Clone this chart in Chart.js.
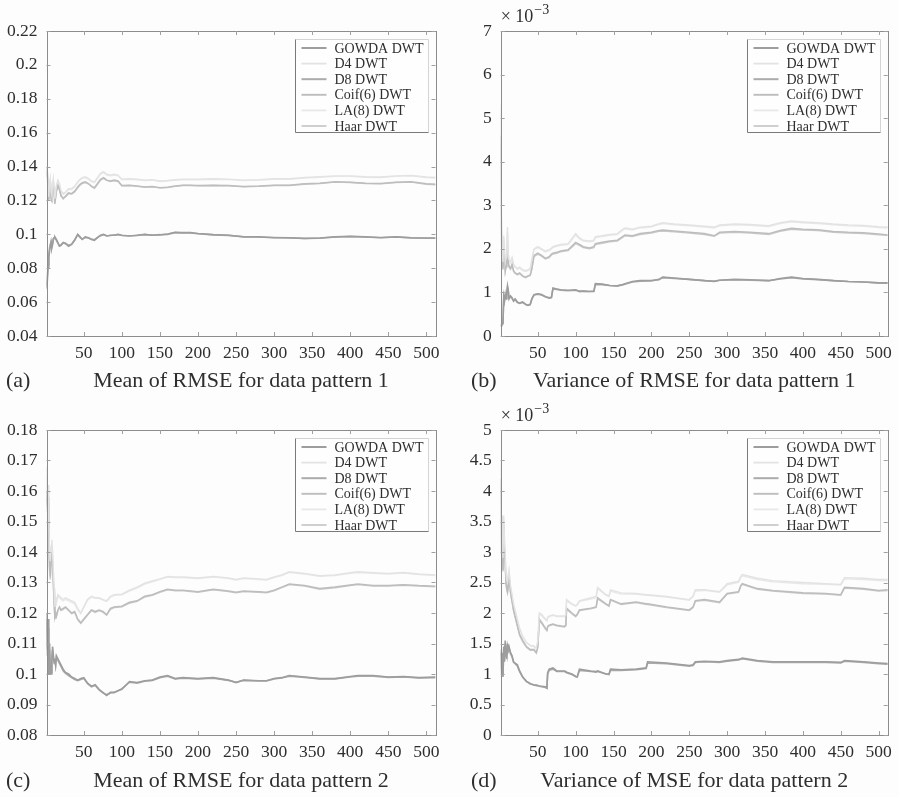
<!DOCTYPE html>
<html>
<head>
<meta charset="utf-8">
<script src="https://cdn.jsdelivr.net/npm/chart.js@4.4.1/dist/chart.umd.min.js"></script>
<style>
  body { margin: 0; background: #fdfdfd; }
  .panel { position: absolute; width: 450px; height: 398px; }
</style>
</head>
<body>
<div class="panel" style="left:0;top:0"><canvas id="pa"></canvas></div>
<div class="panel" style="left:449px;top:0"><canvas id="pb"></canvas></div>
<div class="panel" style="left:0;top:397px"><canvas id="pc"></canvas></div>
<div class="panel" style="left:449px;top:397px"><canvas id="pd"></canvas></div>
<script>
const names = ['GOWDA DWT', 'D4 DWT', 'D8 DWT', 'Coif(6) DWT', 'LA(8) DWT', 'Haar DWT'];
const xTicks = [50, 100, 150, 200, 250, 300, 350, 400, 450, 500];

// (a) mean of RMSE, pattern 1
const xsA = [1,2,3,4,5,6,7,8,9,10,11,12,14,16,18,20,23,26,30,34,38,42,45,48,52,56,60,64,68,72,76,80,85,90,95,100,
  110,120,130,140,150,160,170,180,190,200,220,240,260,280,300,320,340,360,380,400,420,440,460,480,500,512];
const aGowda = [0.068,0.072,0.080,0.086,0.090,0.093,0.095,0.092,0.094,0.097,0.098,0.0985, 0.097,0.095,0.093,0.0935,
  0.095,0.0945,0.093,0.094,0.0965,0.100, 0.0985,0.097,0.0985,0.098,0.097,0.0965,0.098,0.0995,0.100,0.099,
  0.0995,0.0995,0.100,0.0995, 0.099,0.0995,0.100,0.0995,0.0998,0.1002,0.1012,0.101,0.101,0.1005,
  0.0998,0.0995,0.0985,0.0985,0.098,0.098,0.0975,0.0978,0.0985,0.0988,0.0985,0.098,0.0985,0.098,0.0978, 0.0978];
const aD4 = [0.14,0.137,0.128,0.122,0.13,0.133,0.125,0.123,0.13,0.133,0.127,0.121, 0.129,0.132,0.13,0.126,
  0.124,0.125,0.127,0.127,0.1285,0.131, 0.1325,0.1335,0.134,0.133,0.1315,0.131,0.1335,0.136,0.137,0.1355,
  0.135,0.1355,0.135,0.1325, 0.1328,0.1325,0.132,0.1322,0.1315,0.1318,0.1322,0.1325,0.1325,0.1325,
  0.1328,0.1326,0.132,0.1322,0.1328,0.1328,0.1335,0.134,0.1345,0.1345,0.134,0.1338,0.1345,0.1348,0.1338, 0.1335];
const aD8 = [0.07,0.075,0.082,0.088,0.092,0.094,0.096,0.093,0.095,0.0975,0.098,0.098, 0.0965,0.0948,0.0932,0.0938,
  0.0952,0.0948,0.0935,0.0942,0.0968,0.0998, 0.0982,0.0972,0.0982,0.0978,0.0972,0.0968,0.0982,0.0992,0.0998,0.0992,
  0.0993,0.0996,0.0998,0.0993, 0.0992,0.0993,0.0998,0.0996,0.0996,0.1,0.101,0.1008,0.1008,0.1003,
  0.0997,0.0994,0.0986,0.0984,0.0981,0.0979,0.0976,0.0977,0.0984,0.0987,0.0984,0.0981,0.0984,0.0979,0.0977, 0.0977];
const aCoif = [0.136,0.138,0.125,0.12,0.127,0.13,0.121,0.12,0.128,0.13,0.124,0.118, 0.126,0.129,0.127,0.123,
  0.121,0.1225,0.1245,0.124,0.1255,0.128, 0.1295,0.1305,0.131,0.13,0.1285,0.1275,0.130,0.1325,0.1335,0.132,
  0.1315,0.132,0.1315,0.1288, 0.129,0.1285,0.128,0.1282,0.1275,0.1278,0.1285,0.129,0.129,0.1288,
  0.129,0.1288,0.1282,0.1285,0.129,0.129,0.1298,0.1302,0.131,0.1308,0.1302,0.13,0.1308,0.131,0.1298, 0.1295];
const aLA = [0.139,0.136,0.127,0.123,0.131,0.132,0.124,0.124,0.131,0.132,0.126,0.122, 0.128,0.131,0.129,0.125,
  0.1235,0.1245,0.1265,0.1265,0.128,0.1305, 0.132,0.133,0.1335,0.1325,0.131,0.1305,0.133,0.1355,0.1365,0.135,
  0.1345,0.135,0.1345,0.1322, 0.1325,0.1322,0.1318,0.132,0.1312,0.1315,0.132,0.1322,0.1322,0.1322,
  0.1325,0.1323,0.1318,0.132,0.1325,0.1325,0.1332,0.1337,0.1342,0.1342,0.1337,0.1335,0.1342,0.1345,0.1335, 0.1332];
const aHaar = [0.134,0.137,0.126,0.121,0.126,0.129,0.122,0.119,0.127,0.129,0.125,0.119, 0.125,0.128,0.126,0.1225,
  0.1215,0.1222,0.124,0.1238,0.125,0.1275, 0.129,0.13,0.1305,0.1298,0.1282,0.1272,0.1295,0.132,0.133,0.1318,
  0.1312,0.1316,0.1312,0.1286, 0.1288,0.1283,0.1279,0.128,0.1274,0.1276,0.1283,0.1288,0.1288,0.1286,
  0.1288,0.1286,0.128,0.1283,0.1288,0.1288,0.1296,0.13,0.1308,0.1306,0.13,0.1298,0.1306,0.1308,0.1296, 0.1293];
const aTicks = [0.04, 0.06, 0.08, 0.1, 0.12, 0.14, 0.16, 0.18, 0.2, 0.22];

// (b) variance of RMSE, pattern 1 (x 10^-3)
const xsB = [1,2,3,4,5,6,7,8,9,10,11,12,14,16,18,20,23,26,30,34,37,40,42,45,50,55,60,65,68,70,75,80,90,100,
  105,110,118,124,126,135,145,155,162,165,175,185,200,210,215,230,250,270,283,290,310,330,355,370,385,400,420,440,460,480,500,512];
const bGowda = [0.25,0.22,0.28,0.3,0.9,0.8,0.95,0.85,1.0,1.15,1.05,0.85, 0.92,0.88,0.8,0.85,
  0.78,0.75,0.78,0.72,0.7,0.72,0.85,0.95, 0.97,0.95,0.9,0.87,0.88,1.1,1.08,1.06,1.05,1.06,
  1.02,1.03,1.02,1.02,1.2,1.19,1.16,1.15,1.18,1.2, 1.25,1.27,1.27,1.3,1.35,1.33,1.3,1.27,1.25,1.28,
  1.3,1.29,1.27,1.32,1.35,1.32,1.3,1.27,1.25,1.24, 1.22,1.22];
const bD4 = [5.3,2.5,1.9,1.7,2.3,2.0,1.7,1.8,2.1,2.5,1.9,1.75, 1.7,1.8,1.65,1.6,
  1.55,1.58,1.52,1.5,1.52,1.55,1.75,2.0, 2.05,2.0,1.95,1.98,2.02,2.05,2.08,2.1,2.12,2.35,
  2.25,2.2,2.18,2.2,2.28,2.3,2.33,2.35,2.45,2.48, 2.45,2.5,2.52,2.58,2.6,2.57,2.55,2.52,2.5,2.55,
  2.57,2.56,2.53,2.6,2.64,2.62,2.6,2.57,2.55,2.54, 2.51,2.5];
const bD8 = [0.27,0.24,0.3,0.32,0.85,0.82,0.92,0.88,0.98,1.12,1.02,0.87, 0.9,0.86,0.81,0.84,
  0.77,0.76,0.77,0.73,0.71,0.73,0.84,0.94, 0.96,0.94,0.9,0.88,0.89,1.08,1.07,1.05,1.04,1.05,
  1.03,1.03,1.02,1.03,1.18,1.18,1.16,1.15,1.17,1.19, 1.24,1.26,1.27,1.29,1.34,1.32,1.3,1.27,1.26,1.28,
  1.29,1.28,1.27,1.31,1.34,1.31,1.29,1.27,1.25,1.24, 1.22,1.21];
const bCoif = [4.6,2.2,1.7,1.55,2.1,1.8,1.5,1.6,1.85,2.05,1.7,1.6, 1.55,1.65,1.5,1.45,
  1.42,1.45,1.38,1.35,1.38,1.4,1.55,1.85, 1.9,1.85,1.78,1.82,1.88,1.9,1.92,1.95,1.98,2.15,
  2.1,2.05,2.02,2.05,2.12,2.15,2.18,2.2,2.28,2.32, 2.3,2.35,2.38,2.42,2.43,2.41,2.38,2.35,2.3,2.38,
  2.4,2.38,2.35,2.42,2.47,2.45,2.44,2.4,2.38,2.37, 2.34,2.32];
const bLA = [5.1,2.4,1.85,1.68,2.25,1.95,1.68,1.78,2.05,2.4,1.88,1.72, 1.68,1.78,1.63,1.58,
  1.53,1.56,1.5,1.48,1.5,1.53,1.72,1.98, 2.03,1.98,1.93,1.96,2.0,2.03,2.06,2.08,2.1,2.32,
  2.23,2.18,2.16,2.18,2.26,2.28,2.31,2.33,2.43,2.46, 2.43,2.48,2.5,2.56,2.58,2.55,2.53,2.5,2.48,2.53,
  2.55,2.54,2.51,2.58,2.62,2.6,2.58,2.55,2.53,2.52, 2.49,2.48];
const bHaar = [4.4,2.1,1.65,1.52,2.0,1.75,1.48,1.58,1.8,1.98,1.68,1.58, 1.53,1.62,1.48,1.44,
  1.4,1.43,1.37,1.34,1.37,1.39,1.52,1.82, 1.88,1.83,1.77,1.8,1.86,1.88,1.9,1.93,1.96,2.12,
  2.08,2.03,2.0,2.03,2.1,2.13,2.16,2.18,2.26,2.3, 2.28,2.33,2.36,2.4,2.41,2.39,2.36,2.33,2.29,2.36,
  2.38,2.36,2.33,2.4,2.45,2.43,2.42,2.38,2.36,2.35, 2.32,2.31];
const bTicks = [0, 1, 2, 3, 4, 5, 6, 7];

// (c) mean of RMSE, pattern 2
const xsC = [1,2,3,4,5,6,7,8,9,10,11,12,13,14,16,18,20,23,26,30,34,38,42,46,50,55,60,65,70,75,80,85,90,
  100,110,120,130,140,150,160,170,180,200,220,240,250,260,280,290,300,310,320,340,360,380,400,410,430,450,470,490,512];
const cGowda = [0.12,0.106,0.118,0.1,0.11,0.1,0.1,0.104,0.109,0.106,0.104,0.105,0.103,0.106, 0.105,0.104,0.103,
  0.1015,0.1005,0.1,0.099,0.0985,0.098,0.0985,0.0988, 0.097,0.096,0.0965,0.095,0.094,0.093,0.094,0.094,
  0.095,0.0975,0.0972,0.0978,0.098,0.099,0.0995,0.0985,0.0988, 0.0985,0.0988,0.098,0.0972,0.098,0.0978,0.0978,0.0985,0.0988,0.0995,
  0.099,0.0985,0.0985,0.0992,0.0995,0.0995,0.099,0.0992,0.0988,0.099];
const cD4 = [0.168,0.16,0.162,0.15,0.14,0.137,0.142,0.144,0.14,0.134,0.128,0.122,0.125,0.124, 0.126,0.1255,0.125,
  0.1245,0.125,0.1245,0.124,0.1235,0.1215,0.12,0.122, 0.1245,0.1255,0.125,0.125,0.1245,0.124,0.1255,0.126,
  0.1262,0.1275,0.1285,0.1298,0.1305,0.1312,0.132,0.1318,0.1318, 0.1315,0.132,0.1315,0.131,0.1315,0.1312,0.131,0.1318,0.1325,0.1335,
  0.133,0.1322,0.1325,0.1332,0.1335,0.1332,0.133,0.1333,0.1328,0.1325];
const cD8 = [0.118,0.108,0.115,0.102,0.108,0.101,0.1005,0.105,0.108,0.1055,0.1035,0.1045,0.1028,0.1055, 0.1045,0.1035,0.1025,
  0.101,0.1002,0.0995,0.0988,0.0982,0.0978,0.0982,0.0985, 0.0968,0.0958,0.0962,0.0948,0.0938,0.0932,0.0938,0.0939,
  0.0952,0.0973,0.097,0.0976,0.0979,0.0988,0.0993,0.0984,0.0986, 0.0984,0.0986,0.0979,0.0973,0.0979,0.0977,0.0977,0.0984,0.0987,0.0993,
  0.0989,0.0984,0.0984,0.099,0.0993,0.0993,0.0989,0.099,0.0987,0.0988];
const cCoif = [0.16,0.155,0.158,0.145,0.135,0.132,0.138,0.14,0.136,0.13,0.124,0.118,0.12,0.119, 0.121,0.122,0.121,
  0.1215,0.122,0.121,0.12,0.1205,0.118,0.1168,0.118, 0.1195,0.121,0.1205,0.121,0.1205,0.1195,0.1215,0.122,
  0.1222,0.1235,0.124,0.1255,0.126,0.127,0.1278,0.1275,0.1275, 0.127,0.1278,0.1272,0.1268,0.1272,0.127,0.1268,0.1275,0.1285,0.1295,
  0.129,0.128,0.1285,0.1292,0.1295,0.129,0.129,0.1293,0.129,0.1288];
const cLA = [0.165,0.158,0.16,0.148,0.139,0.136,0.141,0.143,0.139,0.133,0.127,0.121,0.124,0.123, 0.1255,0.125,0.1245,
  0.124,0.1245,0.124,0.1235,0.123,0.121,0.1198,0.1218, 0.1242,0.1252,0.1248,0.1248,0.1242,0.1238,0.1252,0.1258,
  0.126,0.1272,0.1282,0.1295,0.1302,0.131,0.1318,0.1316,0.1316, 0.1313,0.1318,0.1313,0.1308,0.1313,0.131,0.1308,0.1316,0.1323,0.1333,
  0.1328,0.132,0.1323,0.133,0.1333,0.133,0.1328,0.1331,0.1326,0.1323];
const cHaar = [0.158,0.153,0.156,0.143,0.134,0.131,0.137,0.139,0.135,0.129,0.123,0.1185,0.1195,0.1188, 0.1208,0.1218,0.1208,
  0.1212,0.1218,0.1208,0.1198,0.1202,0.1178,0.1166,0.1178, 0.1193,0.1208,0.1202,0.1208,0.1203,0.1193,0.1212,0.1218,
  0.122,0.1232,0.1238,0.1252,0.1258,0.1268,0.1276,0.1273,0.1273, 0.1268,0.1276,0.127,0.1266,0.127,0.1268,0.1266,0.1273,0.1283,0.1293,
  0.1288,0.1278,0.1283,0.129,0.1293,0.1288,0.1288,0.1291,0.1288,0.1286];
const cTicks = [0.08, 0.09, 0.1, 0.11, 0.12, 0.13, 0.14, 0.15, 0.16, 0.17, 0.18];

// (d) variance of MSE, pattern 2 (x 10^-3)
const xsD = [1,2,3,4,5,6,7,8,9,10,11,12,14,16,18,20,23,26,30,35,40,45,48,50,52,55,60,62,63,65,70,75,85,87,88,95,
  100,102,105,120,127,129,140,144,146,160,180,193,195,220,250,255,258,270,290,300,315,318,320,340,360,400,430,450,455,480,500,512];
const dGowda = [1.4,1.0,1.35,0.95,1.45,1.2,1.55,1.35,1.25,1.5,1.4,1.45, 1.35,1.3,1.2,1.18,
  1.15,1.05,0.95,0.88,0.84,0.82,0.82,0.81,0.8,0.8, 0.79,0.77,1.02,1.08,1.1,1.05,1.05,1.04,1.03,1.0,
  0.96,0.95,1.08,1.05,1.04,1.05,1.0,1.0,1.08,1.07, 1.08,1.1,1.2,1.18,1.14,1.15,1.2,1.21,1.2,1.22,
  1.24,1.25,1.26,1.22,1.2,1.2,1.2,1.19,1.22,1.2, 1.18,1.17];
const dD4 = [4.5,3.2,3.6,2.9,3.6,3.2,2.95,2.65,2.55,2.5,2.6,2.7, 2.45,2.3,2.15,2.05,
  1.9,1.75,1.62,1.52,1.47,1.46,1.42,1.55,2.0,1.98, 1.9,1.88,1.93,1.95,1.97,1.95,1.95,1.97,2.22,2.15,
  2.12,2.14,2.2,2.25,2.27,2.42,2.3,2.28,2.38,2.33, 2.32,2.3,2.3,2.27,2.22,2.28,2.38,2.38,2.35,2.48,
  2.52,2.6,2.63,2.57,2.53,2.5,2.48,2.47,2.58,2.57, 2.55,2.55];
const dD8 = [1.35,1.05,1.3,0.98,1.4,1.22,1.5,1.32,1.28,1.45,1.38,1.42, 1.33,1.28,1.19,1.17,
  1.13,1.04,0.95,0.88,0.84,0.82,0.81,0.81,0.8,0.79, 0.78,0.77,1.0,1.06,1.08,1.04,1.04,1.03,1.02,0.99,
  0.96,0.95,1.06,1.04,1.03,1.04,1.0,0.99,1.06,1.06, 1.07,1.09,1.18,1.17,1.13,1.14,1.19,1.2,1.19,1.21,
  1.23,1.24,1.25,1.21,1.19,1.19,1.19,1.18,1.21,1.19, 1.17,1.16];
const dCoif = [4.2,3.0,3.45,2.7,3.45,3.0,2.8,2.5,2.4,2.35,2.45,2.6, 2.35,2.2,2.05,1.95,
  1.8,1.65,1.55,1.45,1.4,1.4,1.35,1.45,1.9,1.85, 1.75,1.72,1.78,1.8,1.82,1.8,1.78,1.8,2.08,2.0,
  1.95,1.98,2.05,2.08,2.1,2.25,2.15,2.12,2.22,2.15, 2.18,2.15,2.15,2.1,2.05,2.1,2.2,2.22,2.18,2.32,
  2.35,2.45,2.48,2.4,2.37,2.33,2.32,2.3,2.42,2.4, 2.37,2.38];
const dLA = [4.4,3.1,3.55,2.85,3.55,3.15,2.9,2.6,2.5,2.48,2.58,2.68, 2.43,2.28,2.13,2.03,
  1.88,1.74,1.61,1.51,1.46,1.45,1.41,1.53,1.98,1.96, 1.89,1.87,1.92,1.94,1.96,1.94,1.94,1.96,2.2,2.14,
  2.11,2.13,2.19,2.23,2.25,2.4,2.29,2.27,2.36,2.31, 2.31,2.29,2.29,2.26,2.21,2.27,2.36,2.37,2.34,2.46,
  2.5,2.58,2.61,2.55,2.51,2.48,2.47,2.46,2.56,2.55, 2.53,2.53];
const dHaar = [4.1,2.95,3.4,2.68,3.4,2.95,2.78,2.48,2.38,2.33,2.43,2.57, 2.33,2.18,2.03,1.93,
  1.78,1.63,1.53,1.44,1.39,1.39,1.34,1.44,1.87,1.83, 1.74,1.71,1.77,1.79,1.81,1.79,1.77,1.79,2.06,1.99,
  1.94,1.97,2.04,2.07,2.09,2.23,2.14,2.11,2.21,2.14, 2.17,2.14,2.14,2.09,2.04,2.09,2.19,2.21,2.17,2.31,
  2.34,2.44,2.47,2.39,2.36,2.32,2.31,2.29,2.41,2.39, 2.36,2.37];
const dTicks = [0, 0.5, 1, 1.5, 2, 2.5, 3, 3.5, 4, 4.5, 5];

const lineColors = ['#9d9d9d', '#e3e3e3', '#ababab', '#bdbdbd', '#e8e8e8', '#cacaca'];
const lineWidths = [1.6, 1.4, 1.6, 1.5, 1.4, 1.4];
const serif = "'Liberation Serif', 'Times New Roman', serif";
const textColor = '#2e2e2e';

function fmt(v) {
  return String(parseFloat(v.toFixed(4)));
}

function makePanel(id, xs, series, yTicks, box, caption, letter, withExp) {
  const datasets = names.map((name, i) => ({
    label: name,
    data: xs.map((x, j) => ({ x: x, y: series[i][j] })),
    borderColor: lineColors[i],
    borderWidth: lineWidths[i],
    pointRadius: 0,
    tension: 0,
    fill: false
  }));

  // frame with inward ticks, legend box and the panel captions
  const decor = {
    id: 'decor',
    afterDatasetsDraw(chart) {
      const { ctx, chartArea: a, scales } = chart;
      ctx.save();
      ctx.strokeStyle = '#8c8c8c';
      ctx.lineWidth = 1;
      ctx.strokeRect(Math.round(a.left) + 0.5, Math.round(a.top) + 0.5,
        Math.round(a.right - a.left), Math.round(a.bottom - a.top));
      ctx.strokeStyle = '#a0a0a0';
      ctx.beginPath();
      xTicks.forEach(v => {
        const px = Math.round(scales.x.getPixelForValue(v)) + 0.5;
        ctx.moveTo(px, a.bottom); ctx.lineTo(px, a.bottom - 4);
        ctx.moveTo(px, a.top); ctx.lineTo(px, a.top + 4);
      });
      yTicks.forEach(v => {
        const py = Math.round(scales.y.getPixelForValue(v)) + 0.5;
        ctx.moveTo(a.left, py); ctx.lineTo(a.left + 4, py);
        ctx.moveTo(a.right, py); ctx.lineTo(a.right - 4, py);
      });
      ctx.stroke();

      // legend
      const lw = 133, lh = 93;
      const lx = Math.round(a.right - 8 - lw) + 0.5, ly = Math.round(a.top + 8) + 0.5;
      ctx.fillStyle = '#fefefe';
      ctx.fillRect(lx, ly, lw, lh);
      ctx.strokeStyle = '#d4d4d4';
      ctx.beginPath();
      ctx.moveTo(lx, ly); ctx.lineTo(lx + lw, ly); ctx.lineTo(lx + lw, ly + lh);
      ctx.stroke();
      ctx.strokeStyle = '#7a7a7a';
      ctx.beginPath();
      ctx.moveTo(lx, ly); ctx.lineTo(lx, ly + lh); ctx.lineTo(lx + lw, ly + lh);
      ctx.stroke();
      ctx.font = '14px ' + serif;
      ctx.textBaseline = 'middle';
      ctx.textAlign = 'left';
      chart.data.datasets.forEach((ds, i) => {
        const yy = ly + 8.5 + i * 15.6;
        ctx.strokeStyle = ds.borderColor;
        ctx.lineWidth = ds.borderWidth + 0.4;
        ctx.beginPath();
        ctx.moveTo(lx + 6, yy); ctx.lineTo(lx + 31, yy);
        ctx.stroke();
        ctx.fillStyle = textColor;
        ctx.fillText(ds.label, lx + 39, yy + 1);
      });
      ctx.restore();
    },
    afterDraw(chart) {
      const { ctx, chartArea: a } = chart;
      ctx.save();
      ctx.fillStyle = textColor;
      ctx.textBaseline = 'alphabetic';
      ctx.font = '22px ' + serif;
      ctx.textAlign = 'center';
      ctx.fillText(caption, (a.left + a.right) / 2, box.capY);
      ctx.textAlign = 'left';
      ctx.fillText(letter, box.letterX, box.capY);
      if (withExp) {
        ctx.font = '18px ' + serif;
        ctx.fillText('\u00d7 10', a.left, a.top - 9);
        const w = ctx.measureText('\u00d7 10').width;
        ctx.font = '14px ' + serif;
        ctx.fillText('\u22123', a.left + w + 1, a.top - 17);
      }
      ctx.restore();
    }
  };

  new Chart(id, {
    type: 'line',
    data: { datasets },
    options: {
      responsive: true,
      maintainAspectRatio: false,
      animation: false,
      layout: { padding: { top: box.top, right: box.right, left: 0, bottom: 0 } },
      plugins: { legend: { display: false }, tooltip: { enabled: false } },
      scales: {
        x: {
          type: 'linear', min: 1, max: 512,
          afterBuildTicks: s => { s.ticks = xTicks.map(v => ({ value: v })); },
          afterFit: s => { s.height = box.xh; },
          grid: { display: false, drawTicks: false },
          border: { display: false },
          ticks: { padding: 7, color: textColor, font: { family: serif, size: 17.5 }, maxRotation: 0, autoSkip: false }
        },
        y: {
          type: 'linear', min: yTicks[0], max: yTicks[yTicks.length - 1],
          afterBuildTicks: s => { s.ticks = yTicks.map(v => ({ value: v })); },
          afterFit: s => { s.width = box.yw; },
          grid: { display: false, drawTicks: false },
          border: { display: false },
          ticks: { padding: 9, color: textColor, font: { family: serif, size: 17.5 }, callback: v => fmt(v) }
        }
      }
    },
    plugins: [decor]
  });
}

makePanel('pa', xsA, [aGowda, aD4, aD8, aCoif, aLA, aHaar], aTicks,
  { top: 31, right: 14.5, yw: 46.5, xh: 62, capY: 387, letterX: 6 },
  'Mean of RMSE for data pattern 1', '(a)', false);
makePanel('pb', xsB, [bGowda, bD4, bD8, bCoif, bLA, bHaar], bTicks,
  { top: 31, right: 10.7, yw: 51.7, xh: 62, capY: 387, letterX: 22 },
  'Variance of RMSE for data pattern 1', '(b)', true);
makePanel('pc', xsC, [cGowda, cD4, cD8, cCoif, cLA, cHaar], cTicks,
  { top: 33, right: 14.5, yw: 46.5, xh: 60, capY: 390, letterX: 6 },
  'Mean of RMSE for data pattern 2', '(c)', false);
makePanel('pd', xsD, [dGowda, dD4, dD8, dCoif, dLA, dHaar], dTicks,
  { top: 33, right: 10.7, yw: 51.7, xh: 60, capY: 390, letterX: 22 },
  'Variance of MSE for data pattern 2', '(d)', true);
</script>
</body>
</html>
